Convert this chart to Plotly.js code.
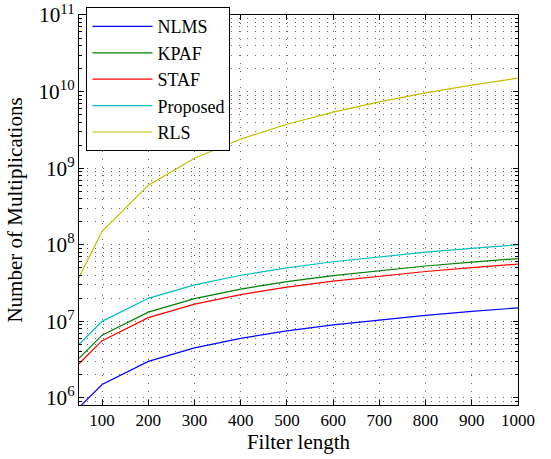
<!DOCTYPE html>
<html>
<head>
<meta charset="utf-8">
<script src="https://cdn.plot.ly/plotly-3.0.1.min.js"></script>
<style>html,body{margin:0;padding:0;background:#fff}#chart{width:551px;height:459px}</style>
</head>
<body>
<div id="chart"></div>
<script>
const filterLength = [50, 100, 200, 300, 400, 500, 600, 700, 800, 900, 1000];
const nlms     = [7.5e5, 1.5e6, 3.0e6, 4.5e6, 6.0e6, 7.5e6, 9.0e6, 1.05e7, 1.2e7, 1.35e7, 1.5e7];
const kpaf     = [3.3e6, 6.6e6, 1.32e7, 1.98e7, 2.64e7, 3.3e7, 3.96e7, 4.62e7, 5.28e7, 5.94e7, 6.6e7];
const staf     = [2.8e6, 5.6e6, 1.12e7, 1.68e7, 2.24e7, 2.8e7, 3.36e7, 3.92e7, 4.48e7, 5.04e7, 5.6e7];
const proposed = [5.0e6, 1.0e7, 2.0e7, 3.0e7, 4.0e7, 5.0e7, 6.0e7, 7.0e7, 8.0e7, 9.0e7, 1.0e8];
const rls      = [3.75e7, 1.5e8, 6.0e8, 1.35e9, 2.4e9, 3.75e9, 5.4e9, 7.35e9, 9.6e9, 1.215e10, 1.5e10];
const seriesNames = ["NLMS", "KPAF", "STAF", "Proposed", "RLS"];
const seriesData = [nlms, kpaf, staf, proposed, rls];
const seriesColors = ["#0000ff", "#008000", "#ff0000", "#00bfbf", "#bfbf00"];

const traces = seriesNames.map((n, i) => ({
  x: filterLength, y: seriesData[i], name: n, type: "scatter", mode: "lines",
  line: {color: seriesColors[i], width: 1.2}
}));

const serif = "Times New Roman";
const gridStyle = {gridcolor: "#666", griddash: "1px,7px", gridwidth: 1};
const layout = {
  width: 551, height: 459,
  margin: {l: 79, r: 33, t: 15, b: 54, autoexpand: false},
  paper_bgcolor: "#fff", plot_bgcolor: "#fff",
  font: {family: serif, size: 17, color: "#000"},
  showlegend: true,
  legend: {x: 0.017, y: 1.02, xanchor: "left", yanchor: "top", bgcolor: "#fff",
           bordercolor: "#000", borderwidth: 1, font: {family: serif, size: 18}, itemwidth: 60},
  xaxis: {
    range: [50, 1000], tickvals: [100,200,300,400,500,600,700,800,900,1000],
    ticks: "inside", ticklen: 5, tickcolor: "#000", showline: true, linecolor: "#000",
    linewidth: 1, mirror: "ticks", showgrid: true, ...gridStyle, zeroline: false,
    tickfont: {family: serif, size: 17},
    title: {text: "Filter length", font: {family: serif, size: 21}, standoff: 2}
  },
  yaxis: {
    type: "log", range: [5.908, 11], dtick: 1, exponentformat: "power",
    ticks: "inside", ticklen: 5, tickcolor: "#000", showline: true, linecolor: "#000",
    linewidth: 1, mirror: "ticks", showgrid: true, ...gridStyle, zeroline: false,
    tickfont: {family: serif, size: 17},
    minor: {ticks: "inside", ticklen: 3, tickcolor: "#000", showgrid: true, ...gridStyle},
    title: {text: "Number of Multiplications", font: {family: serif, size: 21}, standoff: 10}
  }
};
Plotly.newPlot("chart", traces, layout, {staticPlot: true});
</script>
</body>
</html>
